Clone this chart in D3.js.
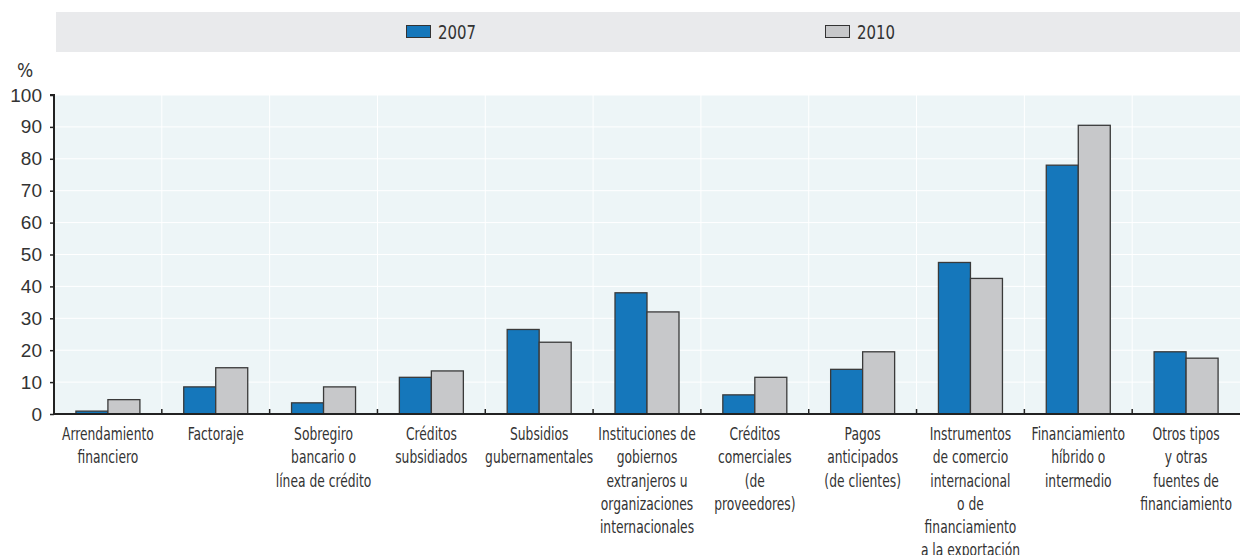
<!DOCTYPE html>
<html>
<head>
<meta charset="utf-8">
<script src="https://cdn.jsdelivr.net/npm/d3@7"></script>
<style>
  html, body { margin: 0; padding: 0; background: #fff; }
  svg { display: block; font-family: "DejaVu Sans Condensed", "Liberation Sans", sans-serif; }
</style>
</head>
<body>
<svg id="chart" width="1240" height="555"></svg>
<script>
// Category labels, already split into display lines
const categories = [
  ["Arrendamiento", "financiero"],
  ["Factoraje"],
  ["Sobregiro", "bancario o", "línea de crédito"],
  ["Créditos", "subsidiados"],
  ["Subsidios", "gubernamentales"],
  ["Instituciones de", "gobiernos", "extranjeros u", "organizaciones", "internacionales"],
  ["Créditos", "comerciales", "(de", "proveedores)"],
  ["Pagos", "anticipados", "(de clientes)"],
  ["Instrumentos", "de comercio", "internacional", "o de", "financiamiento", "a la exportación"],
  ["Financiamiento", "híbrido o", "intermedio"],
  ["Otros tipos", "y otras", "fuentes de", "financiamiento"]
];
const seriesNames = ["2007", "2010"];
const values2007 = [0.9, 8.5, 3.5, 11.5, 26.5, 38, 6, 14, 47.5, 78, 19.5];
const values2010 = [4.5, 14.5, 8.5, 13.5, 22.5, 32, 11.5, 19.5, 42.5, 90.5, 17.5];
const yTicks = [0, 10, 20, 30, 40, 50, 60, 70, 80, 90, 100];
const yUnit = "%";

const colors = ["#1577bb", "#c7c8ca"];
const textColor = "#333";
const svg = d3.select("#chart");
const W = 1240;
const margin = { left: 54, right: 0, top: 95 };
const plotBottom = 414;

const x = d3.scaleBand()
  .domain(d3.range(categories.length))
  .range([margin.left, W - margin.right])
  .paddingInner(0).paddingOuter(0);
const y = d3.scaleLinear().domain([0, 100]).range([plotBottom, margin.top]);
const groupWidth = 64;
const xInner = d3.scaleBand().domain(seriesNames).range([0, groupWidth]).padding(0);
const innerOffset = (x.bandwidth() - groupWidth) / 2;

// Legend band
svg.append("rect").attr("x", 56).attr("y", 12).attr("width", W - 56).attr("height", 40)
  .attr("fill", "#e9eaec");
const legendPos = [406, 825];
seriesNames.forEach((s, i) => {
  const g = svg.append("g").attr("transform", `translate(${legendPos[i]},25)`);
  g.append("rect").attr("x", 0.5).attr("y", 0.5).attr("width", 24).attr("height", 12)
    .attr("fill", colors[i]).attr("stroke", "#333").attr("stroke-width", 1);
  g.append("text").attr("transform", "translate(32,14) scale(0.83,1)")
    .attr("font-size", 20).attr("fill", textColor).text(s);
});

// Plot background
svg.append("rect").attr("x", margin.left).attr("y", margin.top)
  .attr("width", W - margin.left - margin.right).attr("height", plotBottom - margin.top)
  .attr("fill", "#edf5f7");

// Grid lines
svg.append("g").selectAll("line").data(yTicks.filter(d => d > 0)).join("line")
  .attr("x1", margin.left).attr("x2", W - margin.right)
  .attr("y1", d => y(d)).attr("y2", d => y(d))
  .attr("stroke", "#fff").attr("stroke-width", 1);
svg.append("g").selectAll("line").data(d3.range(1, categories.length)).join("line")
  .attr("x1", d => x(d)).attr("x2", d => x(d))
  .attr("y1", margin.top).attr("y2", plotBottom)
  .attr("stroke", "#fff").attr("stroke-width", 1);

// Bars
const groups = svg.append("g").selectAll("g").data(categories.map((c, i) => i)).join("g")
  .attr("transform", i => `translate(${x(i) + innerOffset},0)`);
groups.selectAll("rect")
  .data(i => [values2007[i], values2010[i]].map((v, k) => ({ v, k })))
  .join("rect")
  .attr("x", d => xInner(seriesNames[d.k]))
  .attr("y", d => y(d.v))
  .attr("width", xInner.bandwidth())
  .attr("height", d => plotBottom - y(d.v))
  .attr("fill", d => colors[d.k])
  .attr("stroke", "#3a3a3a").attr("stroke-width", 1.3);

// Y axis
const yAxis = d3.axisLeft(y).tickValues(yTicks).tickSize(4).tickPadding(8);
const ya = svg.append("g").attr("transform", `translate(${margin.left},0)`).call(yAxis);
ya.select(".domain").attr("stroke", "#222").attr("stroke-width", 2)
  .attr("d", `M-4,${margin.top}H0V${plotBottom}`);
ya.selectAll(".tick line").attr("stroke", "#222").attr("stroke-width", 1.5);
ya.selectAll(".tick text").attr("font-size", 19).attr("fill", textColor)
  .attr("font-family", "inherit");

svg.append("text").attr("x", 17).attr("y", 77).attr("font-size", 19)
  .attr("fill", textColor).text(yUnit);

// X axis baseline with boundary ticks
svg.append("line").attr("x1", margin.left - 1).attr("x2", W).attr("y1", plotBottom).attr("y2", plotBottom)
  .attr("stroke", "#222").attr("stroke-width", 2);
svg.append("g").selectAll("line").data(d3.range(1, categories.length)).join("line")
  .attr("x1", d => x(d)).attr("x2", d => x(d))
  .attr("y1", plotBottom - 5).attr("y2", plotBottom)
  .attr("stroke", "#222").attr("stroke-width", 1.5);

// Category labels (condensed horizontally)
const labels = svg.append("g").selectAll("text").data(categories).join("text")
  .attr("text-anchor", "middle")
  .attr("font-size", 18).attr("fill", textColor)
  .attr("transform", (d, i) => `translate(${x(i) + x.bandwidth() / 2},440) scale(0.76,1)`);
labels.selectAll("tspan").data(d => d).join("tspan")
  .attr("x", 0).attr("y", (d, j) => j * 23.3).text(d => d);
</script>
</body>
</html>
